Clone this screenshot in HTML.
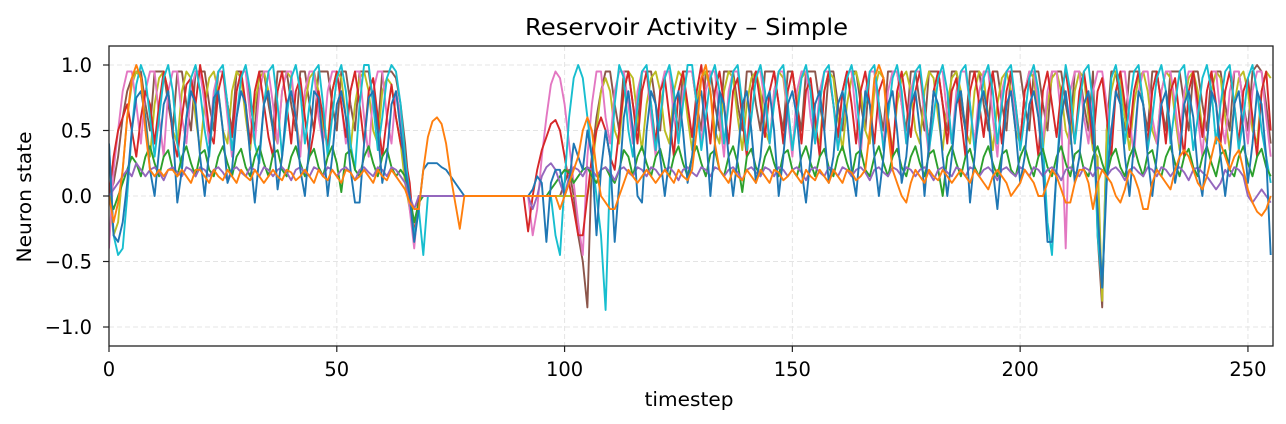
<!DOCTYPE html>
<html><head><meta charset="utf-8"><style>
html,body{margin:0;padding:0;background:#fff;}
svg{display:block;font-family:"DejaVu Sans","Liberation Sans",sans-serif;}
</style></head><body>
<svg id="chart" width="1286" height="424" xmlns="http://www.w3.org/2000/svg">
<text id="title" x="686.5" y="35" text-anchor="middle" font-size="23" fill="#000">Reservoir Activity – Simple</text>
<g id="grid"></g>
<g id="series"></g>
<rect x="109" y="46" width="1164" height="300" fill="none" stroke="#222" stroke-width="1.3"/>
<g id="axes"></g>
<text id="xtitle" x="689" y="406" text-anchor="middle" font-size="19.5">timestep</text>
<text id="ytitle" x="31" y="197" text-anchor="middle" font-size="19.5" transform="rotate(-90 31 197)">Neuron state</text>
</svg>
<script>
const xTicks=[0,50,100,150,200,250];
const yTicks=[-1.0,-0.5,0.0,0.5,1.0];
const yTickLabels=["−1.0","−0.5","0.0","0.5","1.0"];
const colors=["#1f77b4","#ff7f0e","#2ca02c","#d62728","#9467bd","#8c564b","#e377c2","#7f7f7f","#bcbd22","#17becf"];
const sBlue=[0.4,-0.3,-0.35,-0.2,0.1,0.5,0.75,0.8,0.6,0.2,0.0,0.35,0.7,0.8,0.5,-0.05,
0.2,0.6,0.8,0.7,0.3,0.0,0.35,0.75,0.8,0.5,0.1,0.2,0.6,0.8,0.7,0.3,
-0.05,0.3,0.7,0.8,0.5,0.05,0.3,0.7,0.8,0.6,0.2,0.0,0.4,0.8,0.75,0.4,
0.0,0.3,0.7,0.8,0.6,0.2,-0.05,-0.05,0.4,0.75,0.8,0.5,0.1,0.3,0.7,0.8,
0.5,0.2,0.0,-0.35,-0.1,0.2,0.25,0.25,0.25,0.22,0.2,0.15,0.1,0.05,0,0,
0,0,0,0,0,0,0,0,0,0,0,0,0,0.05,0.15,0.1,
-0.35,0.1,0.2,0.2,0.0,0.1,0.4,0.3,0.2,0.5,0.3,-0.3,0.2,0.5,0.3,-0.35,
0.1,0.6,0.8,0.5,0.0,-0.05,0.5,0.8,0.7,0.3,0.0,0.3,0.7,0.8,0.5,0.1,
0.3,0.7,0.8,0.5,0.0,0.4,0.8,0.7,0.3,0.0,0.3,0.7,0.8,0.5,0.1,0.3,
0.7,0.8,0.5,0.0,0.3,0.7,0.8,0.6,0.2,-0.05,0.3,0.7,0.8,0.5,0.1,0.3,
0.7,0.8,0.6,0.2,0.0,0.4,0.8,0.7,0.3,0.0,0.3,0.7,0.8,0.5,0.1,0.3,
0.7,0.8,0.5,0.0,0.4,0.8,0.7,0.3,0.0,0.3,0.7,0.8,0.5,-0.05,0.3,0.7,
0.8,0.6,0.2,-0.1,0.3,0.7,0.8,0.5,0.1,0.3,0.7,0.8,0.6,0.2,-0.35,-0.35,
0.2,0.6,0.8,0.5,0.1,0.3,0.7,0.8,0.5,-0.1,-0.7,0.1,0.5,0.8,0.7,0.3,
0.0,0.4,0.8,0.7,0.3,0.0,0.3,0.7,0.8,0.5,0.1,0.3,0.7,0.8,0.6,0.2,
0.0,0.4,0.8,0.7,0.3,0.0,0.3,0.7,0.8,0.5,0.1,0.4,0.8,0.7,0.3,-0.45];
const sOrange=[0.0,-0.2,-0.05,0.2,0.6,0.9,1.0,0.9,0.5,0.2,0.15,0.2,0.15,0.2,0.2,0.15,
0.2,0.15,0.1,0.2,0.2,0.15,0.1,0.2,0.15,0.12,0.2,0.15,0.1,0.2,0.15,0.12,
0.2,0.15,0.1,0.15,0.2,0.15,0.12,0.2,0.18,0.12,0.15,0.2,0.15,0.1,0.2,0.15,
0.12,0.2,0.15,0.1,0.2,0.18,0.12,0.15,0.2,0.15,0.1,0.2,0.15,0.12,0.2,0.15,
0.1,0.05,-0.05,-0.1,-0.1,0.2,0.45,0.57,0.6,0.55,0.4,0.15,-0.05,-0.25,0.0,0,
0,0,0,0,0,0,0,0,0,0,0,0,0,0,0,0,
0,0,0,-0.1,0.0,0.1,0.2,0.3,0.5,0.6,0.5,0.2,0.0,-0.05,-0.1,-0.1,
0.0,0.1,0.2,0.15,0.1,0.15,0.2,0.15,0.1,0.15,0.2,0.15,0.1,0.2,0.15,0.12,
0.2,0.5,0.9,1.0,0.8,0.4,0.2,0.15,0.1,0.2,0.15,0.12,0.2,0.15,0.1,0.2,
0.15,0.1,0.2,0.18,0.12,0.15,0.2,0.15,0.1,0.2,0.15,0.12,0.2,0.15,0.1,0.2,
0.15,0.1,0.2,0.18,0.12,0.15,0.2,0.5,0.9,1.0,0.9,0.5,0.2,0.1,0.0,-0.05,
0.1,0.2,0.15,0.1,0.2,0.15,0.12,0.2,0.15,0.1,0.15,0.2,0.15,0.1,0.2,0.15,
0.1,0.05,0.15,0.2,0.15,0.1,0.0,0.05,0.1,0.2,0.15,0.1,0.0,0.0,0.1,0.2,
0.15,0.05,-0.05,-0.05,0.1,0.2,0.2,0.1,-0.1,0.1,0.2,0.15,0.1,0.0,-0.05,0.05,
0.2,0.15,0.05,-0.1,-0.1,0.1,0.2,0.15,0.1,0.05,0.2,0.3,0.35,0.3,0.2,0.1,
0.05,0.15,0.3,0.45,0.4,0.3,0.2,0.3,0.35,0.2,0.05,-0.05,-0.12,-0.15,-0.1,0.0];
const sGreen=[0.0,-0.1,0.0,0.1,0.2,0.3,0.25,0.15,0.3,0.38,0.25,0.15,0.3,0.35,0.2,0.15,
0.3,0.38,0.25,0.15,0.32,0.35,0.2,0.15,0.3,0.38,0.25,0.15,0.3,0.36,0.22,0.15,
0.3,0.38,0.25,0.15,0.32,0.35,0.2,0.15,0.3,0.38,0.25,0.15,0.3,0.36,0.22,0.15,
0.3,0.38,0.25,0.03,0.32,0.35,0.2,0.15,0.3,0.38,0.25,0.15,0.3,0.36,0.22,0.15,
0.2,0.15,0.0,-0.2,-0.05,0,0,0,0,0,0,0,0,0,0,0,
0,0,0,0,0,0,0,0,0,0,0,0,0,0,0,0,
0.0,0.05,0.1,0.15,0.2,0.18,0.1,0.15,0.2,0.22,0.15,0.1,0.2,0.22,0.15,0.1,
0.2,0.35,0.3,0.15,0.3,0.38,0.25,0.15,0.3,0.36,0.22,0.15,0.3,0.38,0.25,0.15,
0.3,0.38,0.25,0.15,0.32,0.35,0.2,0.15,0.3,0.38,0.25,0.03,0.3,0.36,0.22,0.15,
0.3,0.38,0.25,0.15,0.32,0.35,0.2,0.15,0.3,0.38,0.25,0.15,0.3,0.36,0.22,0.15,
0.3,0.38,0.25,0.15,0.32,0.35,0.2,0.15,0.3,0.38,0.25,0.15,0.3,0.36,0.22,0.15,
0.3,0.38,0.25,0.15,0.32,0.35,0.2,0.0,0.3,0.38,0.25,0.15,0.3,0.36,0.22,0.15,
0.3,0.38,0.25,0.15,0.32,0.35,0.2,0.15,0.3,0.38,0.25,0.15,0.3,0.36,0.22,0.15,
0.3,0.38,0.25,0.15,0.32,0.35,0.2,0.15,0.3,0.38,0.25,0.15,0.3,0.36,0.22,0.15,
0.3,0.38,0.25,0.15,0.32,0.35,0.2,0.15,0.3,0.38,0.25,0.15,0.3,0.36,0.22,0.15,
0.3,0.38,0.25,0.15,0.32,0.35,0.2,0.15,0.3,0.38,0.25,0.15,0.3,0.36,0.22,0.15];
const sRed=[0.0,0.3,0.5,0.6,0.7,0.5,0.3,0.6,0.8,0.7,0.4,0.7,0.95,0.8,0.45,0.3,
0.6,0.85,0.9,0.7,1.0,0.8,0.5,0.4,0.8,0.95,0.7,0.45,0.8,0.95,0.7,0.4,
0.8,0.95,0.7,0.45,0.3,0.8,0.95,0.7,0.4,0.8,0.9,0.6,0.3,0.5,0.8,0.6,
0.35,0.8,0.95,0.7,0.45,0.8,0.95,0.7,0.4,0.8,0.9,0.6,0.3,0.6,0.85,0.6,
0.4,0.3,0.1,-0.3,0.0,0,0,0,0,0,0,0,0,0,0,0,
0,0,0,0,0,0,0,0,0,0,0,0,-0.27,0.0,0.2,0.35,
0.45,0.55,0.58,0.5,0.3,0.1,-0.1,-0.3,-0.3,0.0,0.3,0.5,0.6,0.5,0.3,0.2,
0.5,0.8,0.95,0.7,0.4,0.8,0.95,0.7,0.4,0.8,0.9,0.6,0.3,0.8,0.95,0.7,
0.45,0.8,1.0,0.7,0.4,0.8,0.95,0.7,0.4,0.8,0.9,0.6,0.3,0.8,0.95,0.7,
0.45,0.8,0.95,0.7,0.4,0.8,0.95,0.7,0.4,0.8,0.9,0.6,0.3,0.8,0.95,0.7,
0.45,0.8,0.95,0.7,0.4,0.8,0.95,0.7,0.4,0.8,0.9,0.6,0.3,0.8,0.95,0.7,
0.45,0.8,0.95,0.7,0.4,0.8,0.95,0.7,0.4,0.8,0.9,0.6,0.3,0.8,0.95,0.7,
0.45,0.8,0.95,0.7,0.4,0.8,0.95,0.7,0.4,0.8,0.9,0.6,0.3,0.8,0.95,0.7,
0.45,0.8,0.95,0.7,0.4,0.8,0.95,0.7,0.4,0.8,0.9,0.6,0.3,0.8,0.95,0.7,
0.45,0.8,0.95,0.7,0.4,0.8,0.95,0.7,0.4,0.8,0.9,0.6,0.3,0.8,0.95,0.7,
0.45,0.8,0.95,0.7,0.4,0.8,0.95,0.7,0.4,0.8,0.9,0.6,0.3,0.8,0.95,0.5];
const sPurple=[0.0,0.05,0.1,0.15,0.2,0.15,0.25,0.2,0.15,0.2,0.22,0.18,0.12,0.2,0.22,0.18,
0.15,0.22,0.2,0.15,0.22,0.2,0.15,0.2,0.22,0.18,0.12,0.2,0.22,0.18,0.15,0.22,
0.2,0.15,0.22,0.2,0.15,0.2,0.22,0.18,0.12,0.2,0.22,0.18,0.15,0.22,0.2,0.15,
0.22,0.2,0.15,0.2,0.22,0.18,0.12,0.2,0.22,0.18,0.15,0.22,0.2,0.15,0.22,0.2,
0.15,0.1,0.0,-0.1,0.0,0,0,0,0,0,0,0,0,0,0,0,
0,0,0,0,0,0,0,0,0,0,0,0,0,-0.1,0.0,0.15,
0.22,0.25,0.2,0.1,0.0,0.15,0.22,0.2,0.15,0.22,0.2,0.15,0.2,0.22,0.18,0.12,
0.2,0.22,0.18,0.15,0.22,0.2,0.15,0.22,0.2,0.15,0.2,0.22,0.18,0.12,0.2,0.22,
0.18,0.15,0.22,0.2,0.15,0.22,0.2,0.15,0.2,0.22,0.18,0.12,0.2,0.22,0.18,0.15,
0.22,0.2,0.15,0.22,0.2,0.15,0.2,0.22,0.18,0.12,0.2,0.22,0.18,0.15,0.22,0.2,
0.15,0.22,0.2,0.15,0.2,0.22,0.18,0.12,0.2,0.22,0.18,0.15,0.22,0.2,0.15,0.22,
0.2,0.15,0.2,0.22,0.18,0.12,0.2,0.22,0.18,0.15,0.22,0.2,0.15,0.22,0.2,0.15,
0.2,0.22,0.18,0.12,0.2,0.22,0.18,0.15,0.22,0.2,0.15,0.22,0.2,0.15,0.2,0.22,
0.18,0.12,0.2,0.22,0.18,0.15,0.22,0.2,0.15,0.22,0.2,0.15,0.2,0.22,0.18,0.12,
0.2,0.22,0.18,0.15,0.22,0.2,0.15,0.22,0.2,0.15,0.2,0.22,0.18,0.12,0.2,0.22,
0.18,0.15,0.1,0.05,0.1,0.2,0.15,0.22,0.2,0.15,0.0,-0.05,0.0,0.05,0.0,-0.05];
const sBrown=[0.0,0.1,0.3,0.6,0.8,0.9,0.95,0.95,0.7,0.5,0.95,0.95,0.95,0.7,0.5,0.95,
0.95,0.7,0.5,0.95,0.95,0.95,0.7,0.5,0.95,0.95,0.7,0.5,0.95,0.95,0.95,0.7,
0.5,0.95,0.95,0.7,0.5,0.95,0.95,0.95,0.7,0.5,0.95,0.95,0.7,0.5,0.95,0.95,
0.95,0.7,0.5,0.95,0.95,0.7,0.5,0.95,0.95,0.95,0.7,0.5,0.95,0.95,0.95,0.9,
0.7,0.4,0.0,-0.3,0.0,0,0,0,0,0,0,0,0,0,0,0,
0,0,0,0,0,0,0,0,0,0,0,0,0,0,0,0,
0,0,0,0.0,0.1,0.2,0.0,-0.3,-0.5,-0.85,0.3,0.6,0.8,0.95,0.95,0.7,
0.5,0.95,0.95,0.7,0.5,0.95,0.95,0.95,0.7,0.5,0.95,0.95,0.7,0.5,0.95,0.95,
0.95,0.7,0.5,0.95,0.95,0.7,0.5,0.95,0.95,0.95,0.7,0.5,0.95,0.95,0.7,0.5,
0.95,0.95,0.95,0.7,0.5,0.95,0.95,0.7,0.5,0.95,0.95,0.95,0.7,0.5,0.95,0.95,
0.7,0.5,0.95,0.95,0.95,0.7,0.5,0.95,0.95,0.7,0.5,0.95,0.95,0.95,0.7,0.5,
0.95,0.95,0.7,0.5,0.95,0.95,0.95,0.7,0.5,0.95,0.95,0.7,0.5,0.95,0.95,0.95,
0.7,0.5,0.95,0.95,0.7,0.5,0.95,0.95,0.95,0.7,0.5,0.95,0.95,0.7,0.5,0.95,
0.95,0.95,0.7,0.5,0.95,0.95,0.7,0.5,0.95,-0.3,-0.85,0.5,0.95,0.95,0.7,0.5,
0.95,0.95,0.95,0.7,0.5,0.95,0.95,0.7,0.5,0.95,0.95,0.95,0.7,0.5,0.95,0.95,
0.7,0.5,0.95,0.95,0.95,0.7,0.5,0.95,0.95,0.7,0.5,0.95,1.0,0.95,0.7,0.4];
const sPink=[-0.4,0.2,0.5,0.8,0.95,0.95,0.7,0.4,0.8,0.95,0.95,0.6,0.3,0.8,0.95,0.95,
0.6,0.4,0.8,0.95,0.95,0.7,0.4,0.8,0.95,0.95,0.6,0.3,0.8,0.95,0.95,0.6,
0.4,0.8,0.95,0.95,0.7,0.4,0.8,0.95,0.95,0.6,0.3,0.8,0.95,0.95,0.6,0.4,
0.8,0.95,0.95,0.7,0.4,0.8,0.95,0.95,0.6,0.3,0.8,0.95,0.95,0.6,0.4,0.8,
0.6,0.2,-0.1,-0.4,0.0,0,0,0,0,0,0,0,0,0,0,0,
0,0,0,0,0,0,0,0,0,0,0,0,0,-0.3,-0.1,0.3,
0.6,0.85,0.95,0.9,0.7,0.4,0.1,-0.2,-0.45,0.3,0.7,0.95,0.95,0.6,0.4,0.8,
0.95,0.95,0.7,0.4,0.8,0.95,0.95,0.6,0.3,0.8,0.95,0.95,0.6,0.4,0.8,0.95,
0.95,0.7,0.4,0.8,0.95,0.95,0.6,0.3,0.8,0.95,0.95,0.6,0.4,0.8,0.95,0.95,
0.7,0.4,0.8,0.95,0.95,0.6,0.3,0.8,0.95,0.95,0.6,0.4,0.8,0.95,0.95,0.7,
0.4,0.8,0.95,0.95,0.6,0.3,0.8,0.95,0.95,0.6,0.4,0.8,0.95,0.95,0.7,0.4,
0.8,0.95,0.95,0.6,0.3,0.8,0.95,0.95,0.6,0.4,0.8,0.95,0.95,0.7,0.4,0.8,
0.95,0.95,0.6,0.3,0.8,0.95,0.95,0.6,0.4,0.8,0.95,0.95,0.7,0.4,0.8,0.95,
0.95,0.6,-0.4,0.8,0.95,0.95,0.6,0.4,0.8,0.95,0.95,0.7,0.4,0.8,0.95,0.95,
0.6,0.3,0.8,0.95,0.95,0.6,0.4,0.8,0.95,0.95,0.7,0.4,0.8,0.95,0.95,0.6,
0.3,0.8,0.95,0.95,0.6,0.4,0.8,0.95,0.95,0.7,0.4,0.8,0.95,0.95,0.6,0.3];
const sOlive=[0.1,-0.3,-0.2,0.2,0.6,0.85,0.95,0.9,0.6,0.3,0.7,0.9,0.95,0.8,0.5,0.4,
0.8,0.95,0.9,0.6,0.35,0.7,0.9,0.95,0.8,0.5,0.4,0.8,0.95,0.9,0.6,0.35,
0.7,0.9,0.95,0.8,0.5,0.4,0.8,0.95,0.9,0.6,0.35,0.7,0.9,0.95,0.8,0.5,
0.4,0.8,0.95,0.9,0.6,0.35,0.7,0.9,0.95,0.8,0.5,0.4,0.8,0.9,0.85,0.6,
0.4,0.1,-0.1,-0.3,0.0,0,0,0,0,0,0,0,0,0,0,0,
0,0,0,0,0,0,0,0,0,0,0,0,0,0,0,0,
0,0,0,0,0,0,0,0,0,0,0.2,0.5,0.8,0.9,0.8,0.5,
0.4,0.8,0.95,0.9,0.6,0.35,0.7,0.9,0.95,0.8,0.5,0.4,0.8,0.95,0.9,0.6,
0.35,0.7,0.9,0.95,0.8,0.5,0.4,0.8,0.95,0.9,0.6,0.35,0.7,0.9,0.95,0.8,
0.5,0.4,0.8,0.95,0.9,0.6,0.35,0.7,0.9,0.95,0.8,0.5,0.4,0.8,0.95,0.9,
0.6,0.35,0.7,0.9,0.95,0.8,0.5,0.4,0.8,0.95,0.9,0.6,0.35,0.7,0.9,0.95,
0.8,0.5,0.4,0.8,0.95,0.9,0.6,0.35,0.7,0.9,0.95,0.8,0.5,0.4,0.8,0.95,
0.9,0.6,0.35,0.7,0.9,0.95,0.8,0.5,0.4,0.8,0.95,0.9,0.6,0.35,0.7,0.9,
0.95,0.8,0.5,0.4,0.8,0.95,0.9,0.6,0.35,0.3,-0.8,0.5,0.8,0.95,0.9,0.6,
0.35,0.7,0.9,0.95,0.8,0.5,0.4,0.8,0.95,0.9,0.6,0.35,0.7,0.9,0.95,0.8,
0.5,0.4,0.8,0.95,0.9,0.6,0.35,0.7,0.9,0.95,0.8,0.5,0.4,0.8,0.95,0.9];
const sCyan=[0.4,-0.3,-0.45,-0.4,0.0,0.5,0.85,1.0,0.9,0.6,0.3,0.6,0.9,1.0,0.8,0.4,
0.2,0.6,0.9,1.0,0.8,0.5,0.3,0.7,0.95,1.0,0.7,0.35,0.6,0.9,1.0,0.8,
0.4,0.25,0.7,0.95,1.0,0.7,0.3,0.6,0.9,1.0,0.8,0.4,0.7,0.95,1.0,0.7,
0.3,0.6,0.9,1.0,0.8,0.4,0.2,0.7,1.0,1.0,0.7,0.35,0.6,0.9,1.0,0.95,
0.7,0.3,0.0,-0.3,-0.1,-0.45,0.0,0,0,0,0,0,0,0,0,0,
0,0,0,0,0,0,0,0,0,0,0,0,0,0,0,0,
0,0,-0.3,-0.45,0.1,0.6,0.9,1.0,0.9,0.6,0.3,0.0,-0.3,-0.87,0.2,0.7,
1.0,0.9,0.5,0.3,0.7,0.95,1.0,0.7,0.35,0.6,0.9,1.0,0.8,0.4,0.7,1.0,
1.0,0.7,0.35,0.6,0.9,1.0,0.8,0.4,0.7,0.95,1.0,0.7,0.35,0.6,0.9,1.0,
0.8,0.4,0.7,0.95,1.0,0.7,0.35,0.6,0.9,1.0,0.8,0.4,0.7,0.95,1.0,0.7,
0.35,0.6,0.9,1.0,0.8,0.4,0.7,0.95,1.0,0.7,0.35,0.6,0.9,1.0,0.8,0.4,
0.7,0.95,1.0,0.7,0.35,0.6,0.9,1.0,0.8,0.4,0.7,0.95,1.0,0.7,0.35,0.6,
0.9,1.0,0.8,0.4,0.7,0.95,1.0,0.7,0.35,0.6,0.9,1.0,0.8,0.4,-0.2,-0.45,
0.2,0.7,1.0,0.8,0.4,0.7,0.95,1.0,0.7,-0.3,-0.7,0.2,0.9,1.0,0.8,0.4,
0.7,0.95,1.0,0.7,0.35,0.6,0.9,1.0,0.8,0.4,0.7,0.95,1.0,0.7,0.35,0.6,
0.9,1.0,0.8,0.4,0.7,0.95,1.0,0.7,0.35,0.6,0.9,1.0,0.8,0.5,0.3,0.1];
const seriesList=[sBrown,sOlive,sPink,sRed,sCyan,sGreen,sPurple,sBlue,sOrange];
const seriesColors=[colors[5],colors[8],colors[6],colors[3],colors[9],colors[2],colors[4],colors[0],colors[1]];
const seriesNames=["neuron-brown","neuron-olive","neuron-pink","neuron-red","neuron-cyan","neuron-green","neuron-purple","neuron-blue","neuron-orange"];

const X0=109,X1=1273,Y0=46,Y1=346,xMin=0,xMax=255.5,yMin=-1.145,yMax=1.145;
function sx(v){return X0+(v-xMin)/(xMax-xMin)*(X1-X0);}
function sy(v){return Y1-(v-yMin)/(yMax-yMin)*(Y1-Y0);}
const NS="http://www.w3.org/2000/svg";
const grid=document.getElementById('grid'),axes=document.getElementById('axes'),sg=document.getElementById('series');
function mk(tag,attrs,parent){const e=document.createElementNS(NS,tag);for(const k in attrs)e.setAttribute(k,attrs[k]);parent.appendChild(e);return e;}
// approximate DejaVu Sans advance widths (em) for digit/minus/period
function labelWidth(s,size){let w=0;for(const c of s){w+= c==='−'?0.838:(c==='.'?0.318:0.636);}return w*size;}
function fit(el,w){el.setAttribute('textLength',w.toFixed(1));el.setAttribute('lengthAdjust','spacingAndGlyphs');}
fit(document.getElementById('title'),323);
fit(document.getElementById('xtitle'),89);
fit(document.getElementById('ytitle'),131);
xTicks.forEach(t=>{
  const g=mk('line',{x1:sx(t),x2:sx(t),y1:Y0,y2:Y1,stroke:'#e4e4e4','stroke-dasharray':'5,3','stroke-width':1},grid);
  
  
  const tk=mk('line',{x1:sx(t),x2:sx(t),y1:Y1,y2:Y1+6,stroke:'#222','stroke-width':1.2},axes);
  
  
  const lb=mk('text',{x:sx(t),y:Y1+30,'text-anchor':'middle','font-size':19.5},axes);
  lb.textContent=t;
  fit(lb,labelWidth(String(t),19.5));
  
  
});
yTicks.forEach((t,i)=>{
  const g=mk('line',{x1:X0,x2:X1,y1:sy(t),y2:sy(t),stroke:'#e4e4e4','stroke-dasharray':'5,3','stroke-width':1},grid);
  
  
  const tk=mk('line',{x1:X0-6,x2:X0,y1:sy(t),y2:sy(t),stroke:'#222','stroke-width':1.2},axes);
  
  
  const lb=mk('text',{x:X0-17,y:sy(t)+7,'text-anchor':'end','font-size':19.5},axes);
  lb.textContent=yTickLabels[i];
  fit(lb,labelWidth(yTickLabels[i],19.5));
  
  
});
const clip=mk('clipPath',{id:'pc'},document.getElementById('chart'));
mk('rect',{x:X0,y:Y0,width:X1-X0,height:Y1-Y0},clip);
sg.setAttribute('clip-path','url(#pc)');
seriesList.forEach((s,i)=>{
  const d=s.map((v,j)=>(j?'L':'M')+sx(j).toFixed(1)+' '+sy(v).toFixed(1)).join('');
  const p=mk('path',{d:d,fill:'none',stroke:seriesColors[i],'stroke-width':1.9,'stroke-linejoin':'round'},sg);
  
  
});
</script>
</body></html>
